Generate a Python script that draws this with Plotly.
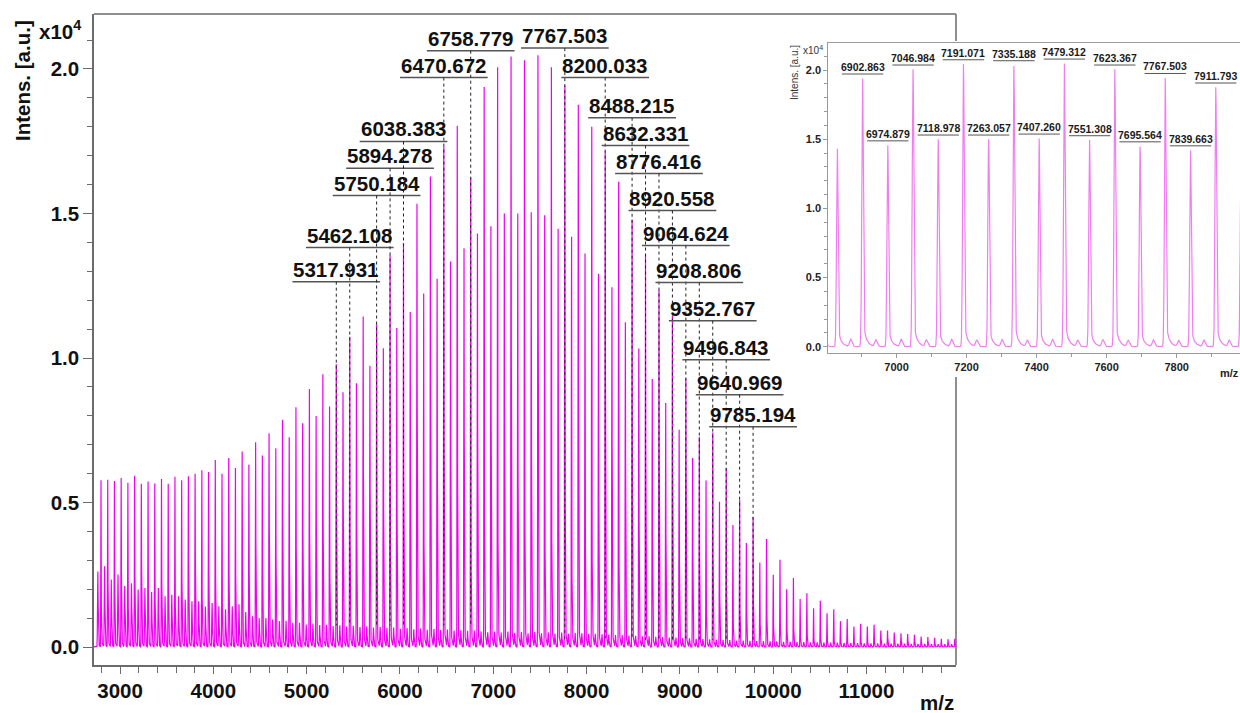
import numpy as np
import plotly.graph_objects as go

# ---------------------------------------------------------------------------
# Peak list of the MALDI-TOF spectrum (intensities in units of 1e4 a.u.)
# ---------------------------------------------------------------------------
PEAK_MZ = [
    2796.0, 2868.1, 2940.1, 3012.2, 3084.2, 3156.3, 3228.3, 3300.4, 3372.4, 3444.5,
    3516.5, 3588.6, 3660.6, 3732.7, 3804.7, 3876.8, 3948.8, 4020.9, 4092.9, 4165.0,
    4237.0, 4309.1, 4381.1, 4453.2, 4525.2, 4597.3, 4669.3, 4741.4, 4813.4, 4885.5,
    4957.5, 5029.6, 5101.6, 5173.7, 5245.7, 5317.931, 5389.8, 5462.108, 5534.0, 5606.0,
    5678.1, 5750.184, 5822.2, 5894.278, 5966.3, 6038.383, 6110.4, 6182.5, 6254.5, 6326.6,
    6398.6, 6470.672, 6542.7, 6614.7, 6686.8, 6758.779, 6830.8, 6902.863,
    6974.879, 7046.984, 7118.978, 7191.071, 7263.057, 7335.188, 7407.260, 7479.312, 7551.308, 7623.367,
    7695.564, 7767.503, 7839.663, 7911.793, 7983.9, 8056.0, 8128.0, 8200.033, 8272.1, 8344.1,
    8416.2, 8488.215, 8560.3, 8632.331, 8704.4, 8776.416, 8848.5, 8920.558, 8992.6, 9064.624,
    9136.7, 9208.806, 9280.8, 9352.767, 9424.8, 9496.843, 9568.9, 9640.969, 9713.1, 9785.194,
    9857.2, 9929.3, 10001.3, 10073.4, 10145.4, 10217.5, 10289.5, 10361.6, 10433.6, 10505.7,
    10577.7, 10649.8, 10721.8, 10793.9, 10865.9, 10938.0, 11010.0, 11082.1, 11154.1, 11226.2,
    11298.2, 11370.3, 11442.3, 11514.4, 11586.4, 11658.5, 11730.5, 11802.6, 11874.6, 11946.7,
]

PEAK_INT = [
    0.579, 0.579, 0.575, 0.585, 0.568, 0.593, 0.565, 0.575, 0.568, 0.582,
    0.565, 0.589, 0.577, 0.591, 0.600, 0.614, 0.608, 0.648, 0.600, 0.654,
    0.619, 0.677, 0.631, 0.711, 0.665, 0.740, 0.688, 0.786, 0.726, 0.830,
    0.775, 0.896, 0.802, 0.945, 0.833, 0.980, 0.881, 1.074, 0.916, 1.148,
    0.974, 1.117, 1.034, 1.357, 1.105, 1.403, 1.163, 1.535, 1.224, 1.628,
    1.274, 1.733, 1.335, 1.805, 1.385, 1.630, 1.436, 1.941,
    1.458, 2.006, 1.500, 2.044, 1.500, 2.037, 1.507, 2.049, 1.495, 2.006,
    1.451, 1.945, 1.422, 1.876, 1.363, 1.807, 1.296, 1.720, 1.246, 1.611,
    1.124, 1.478, 1.034, 1.361, 0.931, 1.239, 0.845, 1.146, 0.752, 0.930,
    0.655, 0.730, 0.578, 0.744, 0.505, 0.620, 0.423, 0.510, 0.360, 0.452,
    0.294, 0.374, 0.250, 0.302, 0.200, 0.239, 0.166, 0.187, 0.135, 0.160,
    0.117, 0.131, 0.089, 0.097, 0.071, 0.081, 0.071, 0.077, 0.057, 0.057,
    0.050, 0.048, 0.045, 0.043, 0.037, 0.035, 0.032, 0.029, 0.027, 0.029,
]

# minor companion peak found 34 Da below every main peak
SATELLITE_SHIFT = -34.0
SATELLITE_INT = [
    0.262, 0.279, 0.233, 0.250, 0.210, 0.220, 0.198, 0.204, 0.190, 0.204,
    0.175, 0.180, 0.175, 0.164, 0.158, 0.158, 0.140, 0.152, 0.140, 0.130,
    0.140, 0.147, 0.120, 0.106, 0.100, 0.100, 0.094, 0.089, 0.090, 0.083,
    0.083, 0.077, 0.080, 0.075, 0.076, 0.072, 0.074, 0.070, 0.072, 0.068,
    0.070, 0.066, 0.068, 0.064, 0.066, 0.062, 0.064, 0.060, 0.062, 0.058,
    0.060, 0.057, 0.058, 0.055, 0.056, 0.054, 0.055, 0.053,
    0.048, 0.052, 0.047, 0.052, 0.046, 0.050, 0.045, 0.050, 0.045, 0.049,
    0.044, 0.048, 0.043, 0.047, 0.045, 0.044, 0.043, 0.042, 0.041, 0.040,
    0.039, 0.038, 0.037, 0.036, 0.035, 0.034, 0.033, 0.032, 0.031, 0.030,
    0.029, 0.028, 0.027, 0.026, 0.025, 0.024, 0.023, 0.022, 0.022, 0.021,
    0.020, 0.020, 0.019, 0.019, 0.018, 0.018, 0.017, 0.017, 0.016, 0.016,
    0.015, 0.015, 0.015, 0.014, 0.014, 0.014, 0.013, 0.013, 0.013, 0.012,
    0.012, 0.012, 0.012, 0.011, 0.011, 0.011, 0.011, 0.010, 0.010, 0.010,
]

# annotated peaks of the full spectrum and the height of their label bars
MAIN_LABELS = [5317.931, 5462.108, 5750.184, 5894.278, 6038.383, 6470.672,
               6758.779, 7767.503, 8200.033, 8488.215, 8632.331, 8776.416,
               8920.558, 9064.624, 9208.806, 9352.767, 9496.843, 9640.969,
               9785.194]
MAIN_LABEL_Y = [1.264, 1.382, 1.562, 1.656, 1.749, 1.970, 2.063, 2.072, 1.970,
                1.831, 1.735, 1.638, 1.510, 1.389, 1.261, 1.129, 0.994, 0.873,
                0.762]

# annotated peaks of the zoomed view
INSET_LABELS = [6902.863, 6974.879, 7046.984, 7118.978, 7191.071, 7263.057,
                7335.188, 7407.260, 7479.312, 7551.308, 7623.367, 7695.564,
                7767.503, 7839.663, 7911.793]

X_TICKS = [3000, 4000, 5000, 6000, 7000, 8000, 9000, 10000, 11000]
INSET_X_TICKS = [7000, 7200, 7400, 7600, 7800]

# ---------------------------------------------------------------------------
# Profile reconstruction from the peak list
# ---------------------------------------------------------------------------
mz = np.arange(2715.0, 11975.0, 0.4)
inten = np.zeros_like(mz)


def add_peak(center, height, sigma, tail, decay):
    sel = (mz > center - 8 * sigma) & (mz < center + 10 * decay)
    d = mz[sel] - center
    prof = np.exp(-0.5 * (d / sigma) ** 2)
    if tail > 0:
        ramp = 1.0 - np.exp(-(np.clip(d, 0, None) / (1.5 * sigma)) ** 2)
        prof = prof + tail * np.exp(-np.clip(d, 0, None) / decay) * ramp
    inten[sel] += height * prof


for c, h in zip(PEAK_MZ, PEAK_INT):
    add_peak(c, h, sigma=2.2, tail=0.10, decay=9.0)
for c, h in zip(PEAK_MZ, SATELLITE_INT):
    add_peak(c + SATELLITE_SHIFT, h, sigma=3.2, tail=0.25, decay=6.0)

# ---------------------------------------------------------------------------
# Figure geometry (pixel based, on a 1240 x 713 canvas)
# ---------------------------------------------------------------------------
W, H = 1240, 713
FONT = "Liberation Sans, Arial, sans-serif"
AX = "#6b6b6b"


def px(x):
    return x / W


def py(y):
    return 1 - y / H


fig = go.Figure()
fig.add_trace(go.Scatter(x=mz, y=inten, mode="lines",
                         line=dict(color="#f000f0", width=1.2),
                         xaxis="x", yaxis="y", hoverinfo="skip"))
inset_sel = (mz > 6790) & (mz < 7995)
fig.add_trace(go.Scatter(x=mz[inset_sel], y=inten[inset_sel], mode="lines",
                         line=dict(color="#f07ef0", width=1.2),
                         xaxis="x2", yaxis="y2", hoverinfo="skip"))

bold20 = dict(family=FONT, size=20.5, color="#111111", weight="bold")

shapes = []
annotations = []

# frame of the main panel (top edge and right edge, interrupted by the inset)
for (x0, y0, x1, y1) in [(94, 14, 956, 14), (956, 14, 956, 41), (956, 377, 956, 665)]:
    shapes.append(dict(type="line", xref="paper", yref="paper",
                       x0=px(x0), y0=py(y0), x1=px(x1), y1=py(y1),
                       line=dict(color=AX, width=1.5)))

# main peak labels: text, underline bar and dotted drop line
half_bar = 470.0
for m, ly in zip(MAIN_LABELS, MAIN_LABEL_Y):
    annotations.append(dict(x=m, y=ly, xref="x", yref="y", text=f"{m:.3f}",
                            showarrow=False, xanchor="center", yanchor="bottom",
                            font=bold20, yshift=-1))
    shapes.append(dict(type="line", xref="x", yref="y", x0=m - half_bar, x1=m + half_bar,
                       y0=ly, y1=ly, line=dict(color="#555555", width=1.5)))
    bottom = 0.075 if m < 7000 else 0.025
    shapes.append(dict(type="line", xref="x", yref="y", x0=m, x1=m, y0=ly, y1=bottom,
                       line=dict(color="#222222", width=1, dash="dot")))

# inset peak labels sit just above their peaks
bold10 = dict(family=FONT, size=10.5, color="#1a1a1a", weight="bold")
for m in INSET_LABELS:
    i = int(np.argmin(np.abs(np.array(PEAK_MZ) - m)))
    top = PEAK_INT[i]
    ly = top + 0.03
    annotations.append(dict(x=m, y=ly, xref="x2", yref="y2", text=f"{m:.3f}",
                            showarrow=False, xanchor="center", yanchor="bottom",
                            font=bold10, yshift=-1))
    shapes.append(dict(type="line", xref="x2", yref="y2", x0=m - 59, x1=m + 59,
                       y0=ly, y1=ly, line=dict(color="#555555", width=1)))

# axis titles
annotations += [
    dict(x=px(22), y=py(81), xref="paper", yref="paper", text="Intens. [a.u.]",
         textangle=-90, showarrow=False, xanchor="center", yanchor="middle", font=bold20),
    dict(x=px(37), y=py(30), xref="paper", yref="paper", text="x10<sup>4</sup>",
         showarrow=False, xanchor="left", yanchor="middle", font=bold20),
    dict(x=px(937), y=py(702), xref="paper", yref="paper", text="m/z",
         showarrow=False, xanchor="center", yanchor="middle", font=bold20),
    dict(x=px(794), y=py(73), xref="paper", yref="paper", text="Intens. [a.u.]",
         textangle=-90, showarrow=False, xanchor="center", yanchor="middle",
         font=dict(family=FONT, size=10, color="#333333")),
    dict(x=px(801), y=py(50), xref="paper", yref="paper", text="x10<sup>4</sup>",
         showarrow=False, xanchor="left", yanchor="middle",
         font=dict(family=FONT, size=10, color="#333333")),
    dict(x=px(1229), y=py(373), xref="paper", yref="paper", text="m/z",
         showarrow=False, xanchor="center", yanchor="middle",
         font=dict(family=FONT, size=11, color="#222222", weight="bold")),
]

fig.update_layout(
    width=W, height=H,
    margin=dict(l=0, r=0, t=0, b=0),
    paper_bgcolor="white", plot_bgcolor="white",
    showlegend=False,
    shapes=shapes, annotations=annotations,
    xaxis=dict(domain=[px(94), px(956)], range=[2721, 11960], anchor="y",
               showline=True, linecolor=AX, linewidth=1.5, mirror=False,
               ticks="outside", ticklen=7, tickwidth=1.2, tickcolor=AX,
               tickmode="array", tickvals=X_TICKS, ticktext=[str(v) for v in X_TICKS],
               tickfont=bold20, showgrid=False, zeroline=False, automargin=False,
               minor=dict(dtick=200, tick0=0, ticks="outside", ticklen=6,
                          tickwidth=1.2, tickcolor=AX, showgrid=False)),
    yaxis=dict(domain=[py(665), py(14)], range=[-0.062, 2.19], anchor="x",
               showline=True, linecolor=AX, linewidth=1.5, mirror=False,
               ticks="outside", ticklen=9, tickwidth=1.2, tickcolor=AX,
               tick0=0, dtick=0.5, tickformat=".1f",
               tickfont=bold20, showgrid=False, zeroline=False, automargin=False,
               minor=dict(dtick=0.1, tick0=0, ticks="outside", ticklen=5,
                          tickwidth=1.2, tickcolor=AX, showgrid=False)),
    xaxis2=dict(domain=[px(828.3), 1.0], range=[6805, 7981], anchor="y2",
                showline=True, linecolor="#9a9a9a", linewidth=1, mirror=True,
                ticks="outside", ticklen=4, tickwidth=1, tickcolor="#9a9a9a",
                tickmode="array", tickvals=INSET_X_TICKS,
                ticktext=[str(v) for v in INSET_X_TICKS],
                tickfont=dict(family=FONT, size=11, color="#222222", weight="bold"),
                showgrid=False, zeroline=False, automargin=False,
                minor=dict(dtick=100, tick0=0, ticks="outside", ticklen=3,
                           tickwidth=1, tickcolor="#9a9a9a", showgrid=False)),
    yaxis2=dict(domain=[py(352.7), py(43.3)], range=[-0.043, 2.193], anchor="x2",
                showline=True, linecolor="#9a9a9a", linewidth=1, mirror=False,
                ticks="outside", ticklen=4, tickwidth=1, tickcolor="#9a9a9a",
                tick0=0, dtick=0.5, tickformat=".1f",
                tickfont=dict(family=FONT, size=11, color="#222222", weight="bold"),
                showgrid=False, zeroline=False, automargin=False,
                minor=dict(dtick=0.1, tick0=0, ticks="outside", ticklen=3,
                           tickwidth=1, tickcolor="#9a9a9a", showgrid=False)),
)

fig.write_html("out.html")
